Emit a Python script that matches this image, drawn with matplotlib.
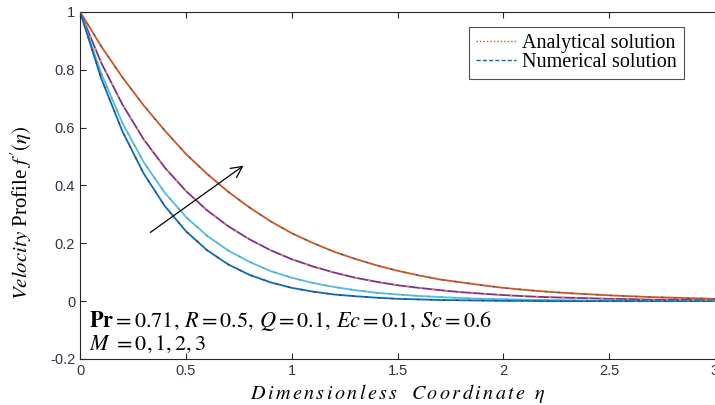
import matplotlib
matplotlib.use("Agg")
import matplotlib.pyplot as plt
from matplotlib.lines import Line2D

plt.rcParams['mathtext.fontset'] = 'stix'

eta = [0.0, 0.1, 0.2, 0.3, 0.4, 0.5, 0.6, 0.7, 0.8, 0.9, 1.0,
       1.1, 1.2, 1.3, 1.4, 1.5, 1.6, 1.7, 1.8, 1.9, 2.0,
       2.1, 2.2, 2.3, 2.4, 2.5, 2.6, 2.7, 2.8, 2.9, 3.0]

# M = 0
f_m0 = [1.000, 0.881, 0.774, 0.677, 0.590, 0.509, 0.440, 0.378, 0.324, 0.276, 0.235,
        0.201, 0.171, 0.146, 0.124, 0.105, 0.089, 0.075, 0.065, 0.055, 0.046,
        0.039, 0.033, 0.028, 0.024, 0.020, 0.017, 0.014, 0.012, 0.010, 0.008]
# M = 1
f_m1 = [1.000, 0.824, 0.680, 0.560, 0.462, 0.381, 0.314, 0.259, 0.214, 0.176, 0.145,
        0.120, 0.099, 0.081, 0.067, 0.055, 0.046, 0.038, 0.031, 0.026, 0.021,
        0.017, 0.014, 0.012, 0.010, 0.008, 0.007, 0.005, 0.005, 0.004, 0.003]
# M = 2
f_m2 = [1.000, 0.787, 0.616, 0.481, 0.375, 0.291, 0.226, 0.175, 0.136, 0.104, 0.081,
        0.063, 0.049, 0.038, 0.029, 0.023, 0.018, 0.014, 0.011, 0.008, 0.007,
        0.005, 0.004, 0.003, 0.002, 0.002, 0.001, 0.001, 0.001, 0.001, 0.001]
# M = 3
f_m3 = [1.000, 0.770, 0.587, 0.442, 0.329, 0.242, 0.176, 0.127, 0.091, 0.065, 0.046,
        0.033, 0.023, 0.017, 0.012, 0.008, 0.006, 0.004, 0.003, 0.002, 0.001,
        0.001, 0.000, 0.000, 0.000, 0.000, 0.000, 0.000, 0.000, 0.000, 0.000]

series = [f_m0, f_m1, f_m2, f_m3]
line_colors = ['#D95319', '#7E2F8E', '#4DBEEE', '#0072BD']
mark_colors = ['#0072BD', '#EDB120', '#77AC30', '#A2142F']

xticks = [0, 0.5, 1, 1.5, 2, 2.5, 3]
xticklabels = ['0', '0.5', '1', '1.5', '2', '2.5', '3']
yticks = [-0.2, 0, 0.2, 0.4, 0.6, 0.8, 1]
yticklabels = ['-0.2', '0', '0.2', '0.4', '0.6', '0.8', '1']

fig = plt.figure(figsize=(7.15, 4.05), dpi=100)
ax = fig.add_axes([0.112, 0.1136, 0.888, 0.857])

for vals, lc, mc in zip(series, line_colors, mark_colors):
    ax.plot(eta, vals, color=lc, lw=1.3, zorder=2)
    ax.plot(eta, vals, color=mc, lw=1.1, linestyle=(0, (1.5, 7)), alpha=0.85, zorder=3)

ax.set_xlim(0, 3)
ax.set_ylim(-0.2, 1)
ax.set_xticks(xticks)
ax.set_xticklabels(xticklabels)
ax.set_yticks(yticks)
ax.set_yticklabels(yticklabels)
ax.tick_params(direction='in', top=True, right=False, length=4, width=0.8,
               labelsize=10.5, labelcolor='#333344', color='#262626')
for lab in ax.get_xticklabels() + ax.get_yticklabels():
    lab.set_family('Liberation Sans')
for s in ['left', 'bottom', 'top']:
    ax.spines[s].set_color('#262626')
    ax.spines[s].set_linewidth(0.8)
ax.spines['right'].set_visible(False)

ax.set_ylabel(r"$\mathit{Velocity}$ Profile $f\,'(\eta)$", fontsize=15,
              family='Liberation Serif')
ax.yaxis.set_label_coords(-0.073, 0.42)
spaced = r"\,".join(c if c != ' ' else r"\ \ " for c in "Dimensionless Coordinate")
ax.set_xlabel(r"$\mathit{" + spaced + r"}\ \ \eta$", fontsize=14.5, labelpad=3)

ax.annotate('', xy=(0.783, 0.474), xytext=(0.321, 0.232),
            arrowprops=dict(arrowstyle='->', color='black', lw=0.9,
                            mutation_scale=20))

ax.text(0.042, -0.069,
        r"$\mathbf{Pr}=0.71,\,R=0.5,\,Q=0.1,\,Ec=0.1,\,Sc=0.6$",
        fontsize=16, va='center', ha='left')
ax.text(0.042, -0.149, r"$M\ =0,1,2,3$", fontsize=16, va='center', ha='left')

handles = [Line2D([], [], color='#D95319', lw=1.0, linestyle=(0, (1, 1.5))),
           Line2D([], [], color='#0072BD', lw=1.0, linestyle=(0, (3, 1.5)))]
leg = ax.legend(handles, ['Analytical solution', 'Numerical solution'],
                loc='upper right', bbox_to_anchor=(0.951, 0.957),
                prop={'family': 'Liberation Serif', 'size': 14.5},
                frameon=True, fancybox=False, edgecolor='#262626',
                handlelength=2.0, handletextpad=0.3, borderpad=0.35,
                labelspacing=0.0, borderaxespad=0)
leg.get_frame().set_linewidth(0.8)

fig.savefig('out.png', dpi=100)
